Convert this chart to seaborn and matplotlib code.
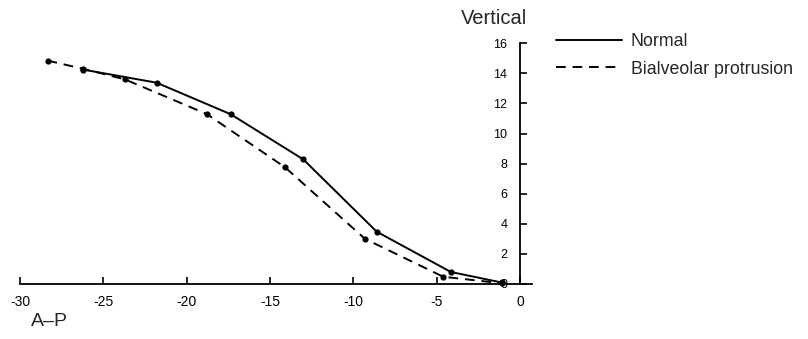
import matplotlib
matplotlib.use("Agg")
import matplotlib.pyplot as plt
from matplotlib.lines import Line2D
import seaborn as sns

# ── Data ──────────────────────────────────────────────────────────────────────
normal_ap   = [-26.2, -21.8, -17.35, -13.0, -8.6, -4.15, -1.1]
normal_vert = [14.25, 13.38, 11.28, 8.28, 3.48, 0.8, 0.1]

bial_ap   = [-28.35, -26.2, -23.7, -18.8, -14.1, -9.3, -4.6, -1.1]
bial_vert = [14.85, 14.3, 13.6, 11.3, 7.76, 3.0, 0.48, 0.05]

x_ticks = [-30, -25, -20, -15, -10, -5, 0]
y_ticks = [0, 2, 4, 6, 8, 10, 12, 14, 16]

DASH = (0, (5, 3.5))

# ── Figure ────────────────────────────────────────────────────────────────────
sns.set_style("white")
plt.rcParams["font.family"] = ["Liberation Sans", "DejaVu Sans"]

W, H = 808, 339
fig = plt.figure(figsize=(W / 100, H / 100), dpi=100)

# axes placed so that -30 -> px 20, 0 -> px 520 ; y 0 -> px 284, 16 -> px 43
xlim = (-31.0, 1.0)
ylim = (-0.5, 16.5)
pxu_x = 500 / 30
pxu_y = (284 - 43.3) / 16
left_px = 20 - (-30 - xlim[0]) * pxu_x
width_px = (xlim[1] - xlim[0]) * pxu_x
bottom_px = 284 + (0 - ylim[0]) * pxu_y
height_px = (ylim[1] - ylim[0]) * pxu_y
ax = fig.add_axes([left_px / W, 1 - bottom_px / H, width_px / W, height_px / H])

sns.lineplot(x=normal_ap, y=normal_vert, ax=ax, color="black", linewidth=1.4,
             marker="o", markersize=4.5, markeredgewidth=0, sort=False,
             estimator=None)
sns.lineplot(x=bial_ap, y=bial_vert, ax=ax, color="black", linewidth=1.4,
             linestyle=DASH, marker="o", markersize=4.5,
             markeredgewidth=0, sort=False, estimator=None)

ax.set_xlim(*xlim)
ax.set_ylim(*ylim)

# axes cross at the origin
ax.spines["left"].set_position(("data", 0))
ax.spines["bottom"].set_position(("data", 0))
ax.spines["right"].set_visible(False)
ax.spines["top"].set_visible(False)
ax.spines["left"].set_bounds(0, 16)
ax.spines["bottom"].set_bounds(-30, 0.7)
for s in ("left", "bottom"):
    ax.spines[s].set_color("black")
    ax.spines[s].set_linewidth(1.3)

ax.set_xticks(x_ticks)
ax.set_xticklabels([str(t) for t in x_ticks])
ax.set_yticks(y_ticks)
ax.set_yticklabels([str(t) for t in y_ticks])
ax.tick_params(axis="x", direction="in", length=5, width=1.2, labelsize=10,
               pad=8, bottom=True, colors="black")
ax.tick_params(axis="y", direction="in", length=5, width=1.2, labelsize=9,
               pad=9, left=True, colors="black")
ax.set_xlabel("")
ax.set_ylabel("")

fig.text(31 / W, 1 - 321 / H, "A–P", fontsize=14, va="center", ha="left")
fig.text(461 / W, 1 - 18 / H, "Vertical", fontsize=14.5, va="center", ha="left")

handles = [Line2D([], [], color="black", linewidth=1.4),
           Line2D([], [], color="black", linewidth=1.4, linestyle=DASH)]
labels = ["Normal", "Bialveolar protrusion"]
fig.legend(handles, labels, loc="upper left",
           bbox_to_anchor=(556 / W, 1 - 33 / H), frameon=False,
           fontsize=12.8, handlelength=3.7, handletextpad=0.5,
           labelspacing=0.6, borderpad=0, borderaxespad=0)

fig.savefig("out.png", dpi=100)
